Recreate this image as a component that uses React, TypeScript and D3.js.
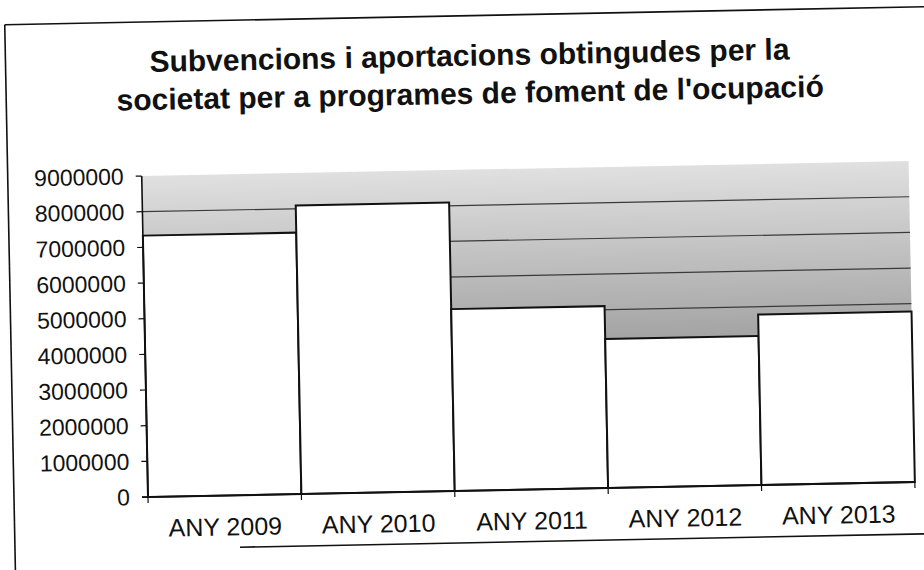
import React from "react";
import * as d3 from "d3";

const categories = ["ANY 2009", "ANY 2010", "ANY 2011", "ANY 2012", "ANY 2013"];
const values = [7330000, 8090000, 5100000, 4180000, 4780000];
const yTicks = [0, 1000000, 2000000, 3000000, 4000000, 5000000, 6000000, 7000000, 8000000, 9000000];
const titleLines = [
  "Subvencions i aportacions obtingudes per la",
  "societat per a programes de foment de l'ocupació",
];

const W = 924;
const H = 570;

export default function App() {
  const x = d3.scaleBand<string>().domain(categories).range([148, 915]).padding(0);
  const y = d3.scaleLinear().domain([0, 9000000]).range([497, 176]);
  const fmt = d3.format("d");
  const font = "'Liberation Sans', Arial, sans-serif";
  const x0 = x.range()[0];
  const x1 = x.range()[1];
  const bounds = [...categories.map((c) => x(c) as number), x1];

  return (
    <svg
      width={W}
      height={H}
      viewBox={`0 0 ${W} ${H}`}
      style={{ position: "absolute", left: 0, top: 0, display: "block", background: "#fff" }}
    >
      <defs>
        <linearGradient id="plotBg" gradientUnits="userSpaceOnUse" x1="0" y1={y(9000000)} x2="0" y2={y(0)}>
          <stop offset="0" stopColor="#e0e0e0" />
          <stop offset="0.55" stopColor="#a2a2a2" />
          <stop offset="1" stopColor="#909090" />
        </linearGradient>
      </defs>
      <g transform="rotate(-1.12, 148, 497)">
        {/* chart frame */}
        <line x1={14} y1={22} x2={990} y2={22} stroke="#111" strokeWidth={1.6} />
        <line x1={14} y1={22} x2={14} y2={640} stroke="#111" strokeWidth={1.6} />
        <line x1={239} y1={549} x2={990} y2={549} stroke="#111" strokeWidth={1.6} />

        {/* title */}
        {titleLines.map((t, i) => (
          <text
            key={i}
            x={478}
            y={72 + i * 38}
            textAnchor="middle"
            fontFamily={font}
            fontWeight="bold"
            fontSize={30}
            fill="#111"
          >
            {t}
          </text>
        ))}

        {/* plot background */}
        <rect x={x0} y={y(9000000)} width={x1 - x0} height={y(0) - y(9000000)} fill="url(#plotBg)" />

        {/* gridlines */}
        {yTicks
          .filter((v) => v > 0 && v < 9000000)
          .map((v) => (
            <line key={v} x1={x0} x2={x1} y1={y(v)} y2={y(v)} stroke="#3a3a3a" strokeWidth={1.2} />
          ))}

        {/* bars */}
        {categories.map((c, i) => (
          <rect
            key={c}
            x={x(c)}
            y={y(values[i])}
            width={x.bandwidth()}
            height={y(0) - y(values[i])}
            fill="#fff"
            stroke="#111"
            strokeWidth={2}
          />
        ))}

        {/* y axis */}
        <line x1={x0} x2={x0} y1={y(9000000)} y2={y(0)} stroke="#111" strokeWidth={1.6} />
        {yTicks.map((v) => (
          <g key={v}>
            <line x1={x0 - 6} x2={x0} y1={y(v)} y2={y(v)} stroke="#111" strokeWidth={1.2} />
            <text
              x={x0 - 18}
              y={y(v) + 8}
              textAnchor="end"
              fontFamily={font}
              fontSize={23}
              fill="#111"
            >
              {fmt(v)}
            </text>
          </g>
        ))}

        {/* x axis */}
        <line x1={x0 - 6} x2={x1} y1={y(0)} y2={y(0)} stroke="#111" strokeWidth={1.8} />
        {bounds.map((b, i) => (
          <line key={i} x1={b} x2={b} y1={y(0)} y2={y(0) + 6} stroke="#111" strokeWidth={1.2} />
        ))}
        {categories.map((c) => (
          <text
            key={c}
            x={(x(c) as number) + x.bandwidth() / 2}
            y={537}
            textAnchor="middle"
            fontFamily={font}
            fontSize={25}
            fill="#111"
          >
            {c}
          </text>
        ))}
      </g>
    </svg>
  );
}
